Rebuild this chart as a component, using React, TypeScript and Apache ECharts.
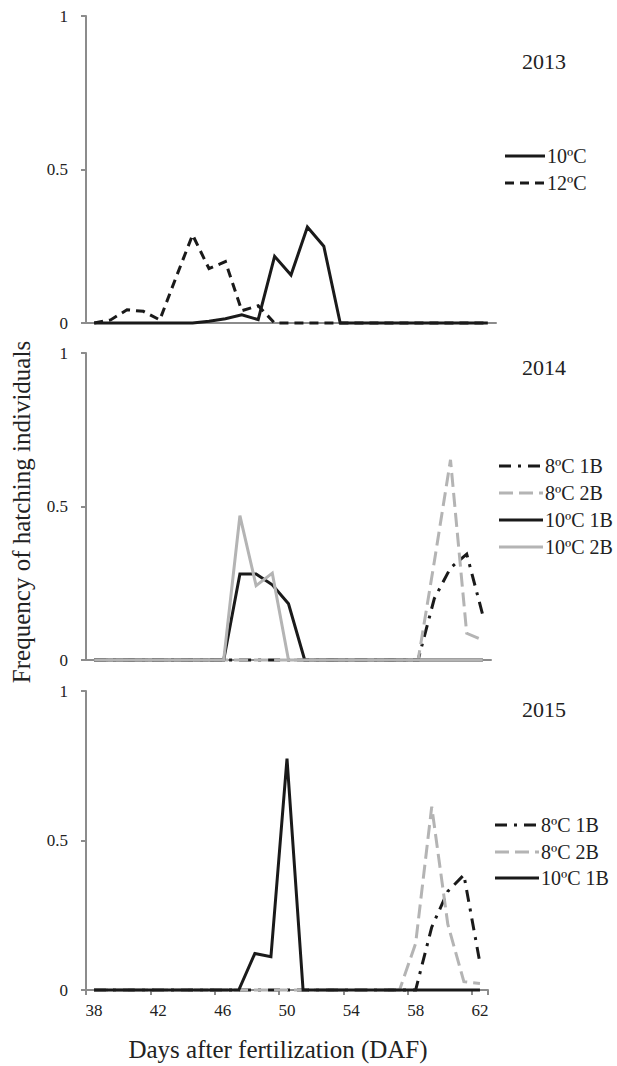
import React, { useEffect, useRef } from 'react';
import * as echarts from 'echarts';

// ---------- DATA ----------
const days = ['38', '39', '40', '41', '42', '43', '44', '45', '46', '47', '48', '49', '50', '51', '52', '53', '54', '55', '56', '57', '58', '59', '60', '61', '62'];

// 2013
const y2013_10C = [0, 0, 0, 0, 0, 0, 0, 0.006, 0.014, 0.027, 0.011, 0.217, 0.156, 0.313, 0.25, 0, 0, 0, 0, 0, 0, 0, 0, 0, 0];
const y2013_12C = [0, 0.01, 0.043, 0.038, 0.01, 0.15, 0.287, 0.177, 0.2, 0.04, 0.056, 0, 0, 0, 0, 0, 0, 0, 0, 0, 0, 0, 0, 0, 0];

// 2014
const y2014_8C1B = [0, 0, 0, 0, 0, 0, 0, 0, 0, 0, 0, 0, 0, 0, 0, 0, 0, 0, 0, 0, 0, 0.2, 0.3, 0.345, 0.145];
const y2014_8C2B = [0, 0, 0, 0, 0, 0, 0, 0, 0, 0, 0, 0, 0, 0, 0, 0, 0, 0, 0, 0, 0, 0.32, 0.652, 0.087, 0.065];
const y2014_10C1B = [0, 0, 0, 0, 0, 0, 0, 0, 0, 0.28, 0.28, 0.245, 0.183, 0, 0, 0, 0, 0, 0, 0, 0, 0, 0, 0, 0];
const y2014_10C2B = [0, 0, 0, 0, 0, 0, 0, 0, 0, 0.47, 0.242, 0.283, 0, 0, 0, 0, 0, 0, 0, 0, 0, 0, 0, 0, 0];

// 2015
const y2015_8C1B = [0, 0, 0, 0, 0, 0, 0, 0, 0, 0, 0, 0, 0, 0, 0, 0, 0, 0, 0, 0, 0, 0.21, 0.33, 0.385, 0.09];
const y2015_8C2B = [0, 0, 0, 0, 0, 0, 0, 0, 0, 0, 0, 0, 0, 0, 0, 0, 0, 0, 0, 0, 0.156, 0.613, 0.22, 0.028, 0.022];
const y2015_10C1B = [0, 0, 0, 0, 0, 0, 0, 0, 0, 0, 0.122, 0.111, 0.774, 0, 0, 0, 0, 0, 0, 0, 0, 0, 0, 0, 0];

const years = ['2013', '2014', '2015'];

// ---------- STYLES ----------
const FONT = 'Liberation Serif';
const TEXT = '#222222';
const AXIS = '#8c8c8c';
const BLACK = '#1a1a1a';
const GRAY = '#b4b4b4';
const LW = 3;

type St = { color: string; type: any };
const solidBlack: St = { color: BLACK, type: 'solid' };
const dashBlack: St = { color: BLACK, type: [9, 6] };
const dashDotBlack: St = { color: BLACK, type: [12, 7, 3, 7] };
const dashGray: St = { color: GRAY, type: [14, 6] };
const solidGray: St = { color: GRAY, type: 'solid' };

type Ser = { name: string; data: number[]; st: St };
type Panel = {
  grid: { left: number; top: number; width: number; height: number };
  yearY: number;
  series: Ser[]; // drawing order
  legend: Ser[];
  legendX: [number, number, number];
  legendY: number[];
};

const s13_10: Ser = { name: '10ºC', data: y2013_10C, st: solidBlack };
const s13_12: Ser = { name: '12ºC', data: y2013_12C, st: dashBlack };
const s14_81: Ser = { name: '8ºC 1B', data: y2014_8C1B, st: dashDotBlack };
const s14_82: Ser = { name: '8ºC 2B', data: y2014_8C2B, st: dashGray };
const s14_101: Ser = { name: '10ºC 1B', data: y2014_10C1B, st: solidBlack };
const s14_102: Ser = { name: '10ºC 2B', data: y2014_10C2B, st: solidGray };
const s15_81: Ser = { name: '8ºC 1B', data: y2015_8C1B, st: dashDotBlack };
const s15_82: Ser = { name: '8ºC 2B', data: y2015_8C2B, st: dashGray };
const s15_101: Ser = { name: '10ºC 1B', data: y2015_10C1B, st: solidBlack };

const panels: Panel[] = [
  {
    grid: { left: 86, top: 16, width: 410, height: 307 },
    yearY: 61,
    series: [s13_12, s13_10],
    legend: [s13_10, s13_12],
    legendX: [505, 545, 547],
    legendY: [156, 183],
  },
  {
    grid: { left: 86, top: 353, width: 405, height: 307 },
    yearY: 367,
    series: [s14_81, s14_82, s14_101, s14_102],
    legend: [s14_81, s14_82, s14_101, s14_102],
    legendX: [499, 543, 545],
    legendY: [466, 493, 520, 547],
  },
  {
    grid: { left: 86, top: 691, width: 402, height: 299 },
    yearY: 709,
    series: [s15_81, s15_82, s15_101],
    legend: [s15_81, s15_82, s15_101],
    legendX: [495, 539, 541],
    legendY: [825, 852, 878],
  },
];

function buildOption() {
  const grid: any[] = [];
  const xAxis: any[] = [];
  const yAxis: any[] = [];
  const series: any[] = [];
  const graphic: any[] = [];

  panels.forEach((p, i) => {
    const last = i === panels.length - 1;
    grid.push({ ...p.grid, containLabel: false });
    xAxis.push({
      type: 'category',
      gridIndex: i,
      data: days,
      boundaryGap: true,
      axisLine: { show: true, lineStyle: { color: AXIS, width: 2 } },
      axisTick: { show: last, interval: 3, alignWithLabel: false, length: 5, lineStyle: { color: AXIS, width: 2 } },
      axisLabel: { show: last, interval: 3, fontSize: 17, fontFamily: FONT, color: TEXT, margin: 12 },
      splitLine: { show: false },
    });
    yAxis.push({
      type: 'value',
      gridIndex: i,
      min: 0,
      max: 1,
      interval: 0.5,
      axisLine: { show: true, lineStyle: { color: AXIS, width: 2 } },
      axisTick: { show: true, length: 5, lineStyle: { color: AXIS, width: 2 } },
      axisLabel: { fontSize: 17, fontFamily: FONT, color: TEXT, margin: 18 },
      splitLine: { show: false },
    });
    p.series.forEach((s) => {
      series.push({
        type: 'line',
        name: s.name,
        xAxisIndex: i,
        yAxisIndex: i,
        data: s.data,
        symbol: 'none',
        clip: false,
        lineStyle: { color: s.st.color, width: LW, type: s.st.type, cap: 'butt', join: 'miter' },
      });
    });
    // year label
    graphic.push({
      type: 'text',
      x: 544,
      y: p.yearY,
      style: { text: years[i], fill: TEXT, fontSize: 22, fontFamily: FONT, align: 'center', verticalAlign: 'middle', textAlign: 'center', textVerticalAlign: 'middle' },
    });
    // legend
    p.legend.forEach((s, k) => {
      const y = p.legendY[k];
      graphic.push({
        type: 'line',
        shape: { x1: p.legendX[0], y1: y, x2: p.legendX[1], y2: y },
        style: { stroke: s.st.color, lineWidth: LW, lineDash: Array.isArray(s.st.type) ? s.st.type : null, lineCap: 'butt' },
      });
      graphic.push({
        type: 'text',
        x: p.legendX[2],
        y,
        style: { text: s.name, fill: TEXT, fontSize: 20, fontFamily: FONT, align: 'left', verticalAlign: 'middle', textAlign: 'left', textVerticalAlign: 'middle' },
      });
    });
  });

  // axis titles
  graphic.push({
    type: 'text',
    x: 21,
    y: 512,
    rotation: Math.PI / 2,
    style: { text: 'Frequency of hatching individuals', fill: TEXT, fontSize: 25, fontFamily: FONT, align: 'center', verticalAlign: 'middle', textAlign: 'center', textVerticalAlign: 'middle' },
  });
  graphic.push({
    type: 'text',
    x: 278,
    y: 1049,
    style: { text: 'Days after fertilization (DAF)', fill: TEXT, fontSize: 25, fontFamily: FONT, align: 'center', verticalAlign: 'middle', textAlign: 'center', textVerticalAlign: 'middle' },
  });

  return {
    animation: false,
    backgroundColor: '#ffffff',
    grid,
    xAxis,
    yAxis,
    series,
    graphic,
  };
}

export default function App() {
  const ref = useRef<HTMLDivElement>(null);
  useEffect(() => {
    if (!ref.current) return;
    const chart = echarts.init(ref.current, null, { renderer: 'svg' });
    chart.setOption(buildOption());
    return () => chart.dispose();
  }, []);
  return (
    <div
      ref={ref}
      style={{ position: 'absolute', left: 0, top: 0, width: 617, height: 1066, background: '#ffffff' }}
    />
  );
}
